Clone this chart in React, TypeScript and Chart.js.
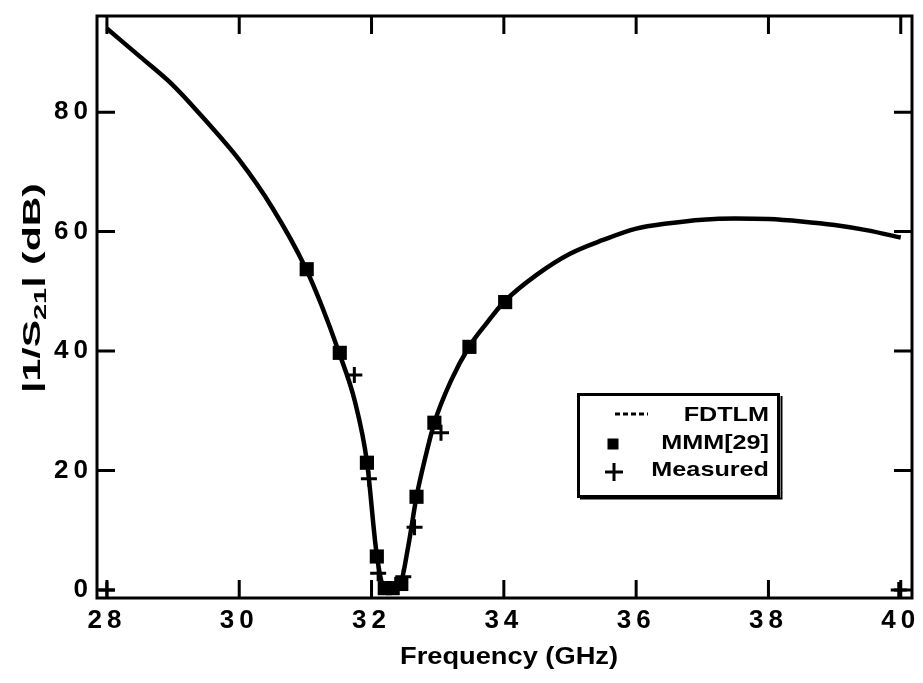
import React, { useEffect, useRef } from "react";
import { Chart, registerables } from "chart.js";

Chart.register(...registerables);

// FDTLM simulated curve
const fdtlmFreq = [28.0, 28.5, 29.0, 29.5, 30.0, 30.5, 31.0, 31.25, 31.5, 31.75, 31.93, 32.08, 32.2, 32.3, 32.43, 32.55, 32.68, 32.82, 32.95, 33.2, 33.48, 33.75, 34.0, 34.5, 35.0, 35.5, 36.0, 36.5, 37.0, 37.5, 38.0, 38.5, 39.0, 39.5, 40.0];
const fdtlmDb = [94.0, 89.3, 84.5, 78.5, 72.0, 64.0, 54.0, 47.5, 40.0, 31.5, 21.5, 5.8, 0.4, 0.3, 0.9, 7.0, 15.6, 22.5, 28.0, 35.0, 40.8, 44.8, 48.2, 52.8, 56.3, 58.6, 60.5, 61.4, 62.0, 62.2, 62.1, 61.7, 61.1, 60.2, 59.0];

// MMM[29] points
const mmmFreq = [31.02, 31.52, 31.93, 32.08, 32.2, 32.32, 32.45, 32.68, 32.95, 33.48, 34.02];
const mmmDb = [53.7, 39.7, 21.3, 5.6, 0.3, 0.3, 1.0, 15.6, 28.0, 40.7, 48.2];

// Measured points
const measFreq = [28.0, 31.74, 31.96, 32.1, 32.48, 32.65, 33.05, 39.97];
const measDb = [0.0, 36.0, 18.6, 2.8, 2.2, 10.5, 26.3, 0.0];

const xTickValues = [28, 30, 32, 34, 36, 38, 40];
const xTickLabels = ["28", "30", "32", "34", "36", "38", "40"];
const yTickValues = [0, 20, 40, 60, 80];
const yTickLabels = ["0", "20", "40", "60", "80"];

const xTitle = "Frequency (GHz)";
const yTitleParts = ["|1/S", "21", "| (dB)"];
const legendLabels = ["FDTLM", "MMM[29]", "Measured"];

const FONT = '"Liberation Sans", Arial, sans-serif';

const toPts = (xs: number[], ys: number[]) => xs.map((x, i) => ({ x, y: ys[i] }));

const framePlugin = {
  id: "frameTicks",
  beforeDraw(chart: any) {
    (chart.ctx as any).letterSpacing = "5px";
  },
  afterDraw(chart: any) {
    const ctx = chart.ctx as CanvasRenderingContext2D;
    (ctx as any).letterSpacing = "0px";
    const { left, right, top, bottom } = chart.chartArea;
    const xs = chart.scales.x;
    const ys = chart.scales.y;
    ctx.save();
    ctx.strokeStyle = "#000";
    ctx.lineWidth = 3;
    ctx.lineCap = "butt";
    ctx.strokeRect(left, top, right - left, bottom - top);
    const tl = 18;
    ctx.beginPath();
    xTickValues.forEach((v) => {
      const px = xs.getPixelForValue(v);
      ctx.moveTo(px, bottom);
      ctx.lineTo(px, bottom - tl);
      ctx.moveTo(px, top);
      ctx.lineTo(px, top + tl);
    });
    yTickValues.forEach((v) => {
      const py = ys.getPixelForValue(v);
      ctx.moveTo(left, py);
      ctx.lineTo(left + tl, py);
      ctx.moveTo(right, py);
      ctx.lineTo(right - tl, py);
    });
    ctx.stroke();

    // X title
    ctx.fillStyle = "#000";
    ctx.font = `bold 24px ${FONT}`;
    const wx = ctx.measureText(xTitle).width;
    ctx.save();
    ctx.translate(509, 657);
    ctx.scale(218 / wx, 1);
    ctx.textAlign = "center";
    ctx.textBaseline = "middle";
    ctx.fillText(xTitle, 0, 0);
    ctx.restore();

    // Y title with subscript
    const mainFont = `bold 24px ${FONT}`;
    const subFont = `bold 17px ${FONT}`;
    ctx.font = mainFont;
    const w0 = ctx.measureText(yTitleParts[0]).width;
    const w2 = ctx.measureText(yTitleParts[2]).width;
    ctx.font = subFont;
    const w1 = ctx.measureText(yTitleParts[1]).width;
    const L = w0 + w1 + w2;
    ctx.save();
    ctx.translate(31, 288);
    ctx.rotate(-Math.PI / 2);
    ctx.scale(210 / L, 1);
    ctx.textAlign = "left";
    ctx.textBaseline = "alphabetic";
    let cx = -L / 2;
    ctx.font = mainFont;
    ctx.fillText(yTitleParts[0], cx, 9);
    cx += w0;
    ctx.font = subFont;
    ctx.fillText(yTitleParts[1], cx, 15);
    cx += w1;
    ctx.font = mainFont;
    ctx.fillText(yTitleParts[2], cx, 9);
    ctx.restore();

    // Legend box
    ctx.lineWidth = 3;
    ctx.strokeRect(578.5, 394.5, 200, 102);
    ctx.lineWidth = 2;
    ctx.beginPath();
    ctx.moveTo(580, 498.5);
    ctx.lineTo(781.5, 498.5);
    ctx.lineTo(781.5, 396);
    ctx.stroke();

    const rowY = [415, 443, 470];
    // dashed sample
    ctx.save();
    ctx.lineWidth = 3;
    ctx.setLineDash([5, 3]);
    ctx.beginPath();
    ctx.moveTo(615, rowY[0] - 1);
    ctx.lineTo(648, rowY[0] - 1);
    ctx.stroke();
    ctx.restore();
    // square sample
    ctx.fillRect(607.5, rowY[1] - 4.5, 11, 11);
    // plus sample
    ctx.lineWidth = 3;
    ctx.beginPath();
    ctx.moveTo(605, rowY[2] + 2);
    ctx.lineTo(623, rowY[2] + 2);
    ctx.moveTo(614, rowY[2] - 7);
    ctx.lineTo(614, rowY[2] + 11);
    ctx.stroke();

    ctx.font = `bold 21px ${FONT}`;
    ctx.textAlign = "right";
    ctx.textBaseline = "middle";
    legendLabels.forEach((t, i) => {
      ctx.save();
      ctx.translate(769, rowY[i]);
      ctx.scale(1.2, 1);
      ctx.fillText(t, 0, 0);
      ctx.restore();
    });
    ctx.restore();
  },
};

export default function App() {
  const ref = useRef<HTMLCanvasElement | null>(null);
  useEffect(() => {
    if (!ref.current) return;
    const chart = new Chart(ref.current, {
      type: "line",
      data: {
        datasets: [
          {
            label: "FDTLM",
            data: toPts(fdtlmFreq, fdtlmDb),
            borderColor: "#000",
            borderWidth: 4.5,
            pointRadius: 0,
            cubicInterpolationMode: "monotone",
            fill: false,
          },
          {
            label: "MMM[29]",
            data: toPts(mmmFreq, mmmDb),
            showLine: false,
            pointStyle: "rect",
            pointRadius: 10,
            backgroundColor: "#000",
            borderColor: "#000",
            borderWidth: 0,
          },
          {
            label: "Measured",
            data: toPts(measFreq, measDb),
            showLine: false,
            pointStyle: "cross",
            pointRadius: 8,
            borderColor: "#000",
            borderWidth: 3,
          },
        ],
      },
      options: {
        animation: false,
        responsive: false,
        events: [],
        layout: { padding: { top: 16, right: 10, left: 0, bottom: 0 } },
        plugins: { legend: { display: false }, tooltip: { enabled: false } },
        scales: {
          x: {
            type: "linear",
            min: 27.85,
            max: 40.17,
            grid: { display: false, drawTicks: false },
            border: { display: false },
            afterBuildTicks: (s: any) => {
              s.ticks = xTickValues.map((v) => ({ value: v }));
            },
            afterFit: (s: any) => {
              s.height = 85;
              s.paddingLeft = 0;
              s.paddingRight = 0;
            },
            ticks: {
              autoSkip: false,
              maxRotation: 0,
              padding: 7,
              color: "#000",
              font: { family: FONT, size: 26, weight: "bold" },
              callback: (v: any) => {
                const i = xTickValues.indexOf(Number(v));
                return i >= 0 ? xTickLabels[i] : "";
              },
            },
          },
          y: {
            type: "linear",
            min: -1.35,
            max: 96.1,
            grid: { display: false, drawTicks: false },
            border: { display: false },
            afterBuildTicks: (s: any) => {
              s.ticks = yTickValues.map((v) => ({ value: v }));
            },
            afterFit: (s: any) => {
              s.width = 97;
              s.paddingTop = 0;
              s.paddingBottom = 0;
            },
            ticks: {
              autoSkip: false,
              padding: 4,
              color: "#000",
              font: { family: FONT, size: 26, weight: "bold" },
              callback: (v: any) => {
                const i = yTickValues.indexOf(Number(v));
                return i >= 0 ? yTickLabels[i] : "";
              },
            },
          },
        },
      },
      plugins: [framePlugin],
    });
    return () => chart.destroy();
  }, []);
  return (
    <div style={{ position: "fixed", left: 0, top: 0, width: 923, height: 683, background: "#fff" }}>
      <canvas ref={ref} width={923} height={683} />
    </div>
  );
}
